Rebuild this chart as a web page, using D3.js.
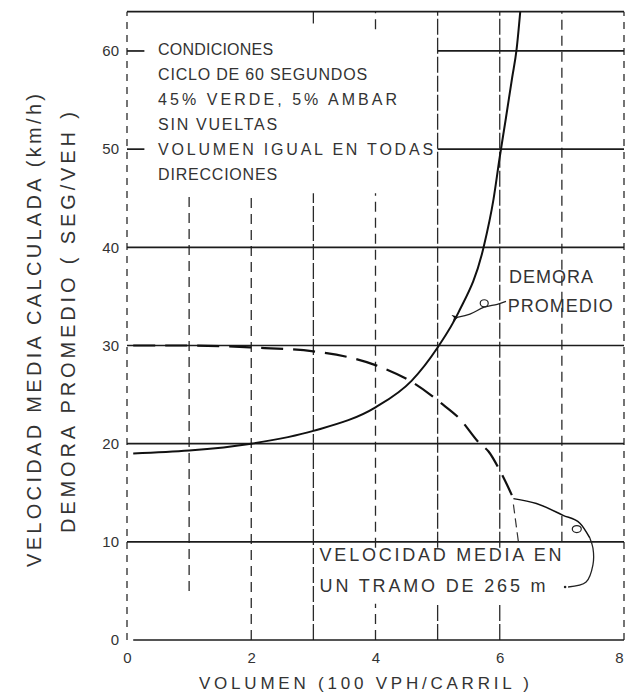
<!DOCTYPE html>
<html>
<head>
<meta charset="utf-8">
<script src="https://cdn.jsdelivr.net/npm/d3@7"></script>
<style>
body { margin: 0; background: #fff; }
text { font-family: "Liberation Sans", Arial, sans-serif; fill: #333; }
</style>
</head>
<body>
<div id="graph"></div>
<script>
// valeurs
var ticksX = [0, 2, 4, 6, 8];
var ticksY = [0, 10, 20, 30, 40, 50, 60];
var lignesX = [0, 1, 2, 3, 4, 5, 6, 7, 8];
var lignesY = [0, 10, 20, 30, 40, 50, 60];

// demora promedio (seg/veh)
var volumenDemora = [0.1, 1, 2, 3, 4, 4.58, 5, 5.33, 5.74, 5.9, 6.0, 6.1, 6.2, 6.27, 6.33];
var demora = [19.0, 19.3, 20.0, 21.3, 23.7, 26.4, 29.8, 33.3, 40.0, 44.9, 49.2, 53.2, 57.3, 60.1, 64.0];

// velocidad media calculada (km/h)
var volumenVelocidad = [0.1, 1, 2, 3, 4, 4.58, 4.88, 5.04, 5.36, 5.68, 5.82, 5.99, 6.08, 6.22];
var velocidad = [30.0, 30.0, 29.8, 29.4, 28.0, 26.3, 25.0, 24.2, 22.5, 20.0, 19.2, 17.4, 16.3, 14.4];

// velocidad media en un tramo de 265 m
var volumenTramo = [6.22, 6.59, 7.02, 7.29, 7.45];
var velocidadTramo = [14.4, 13.9, 12.7, 11.9, 10.4];
var volumenProlongacion = [6.22, 6.3];
var velocidadProlongacion = [13.8, 10.0];

// textes
var condiciones = ["CONDICIONES", "CICLO DE 60 SEGUNDOS", "45% VERDE, 5% AMBAR",
    "SIN VUELTAS", "VOLUMEN IGUAL EN TODAS", "DIRECCIONES"];
var etiquetaDemora = ["DEMORA", "PROMEDIO"];
var etiquetaTramo = ["VELOCIDAD MEDIA EN", "UN TRAMO DE 265 m"];
var tituloX = "VOLUMEN (100 VPH/CARRIL )";
var tituloY1 = "VELOCIDAD MEDIA CALCULADA (km/h)";
var tituloY2 = "DEMORA PROMEDIO ( SEG/VEH )";

// repères des flèches (en unités du graphique)
var flechaDemoraX = [5.33, 5.52, 5.75, 5.96, 6.1];
var flechaDemoraY = [32.9, 33.2, 33.9, 34.2, 34.5];
var flechaTramoX = [7.1, 7.39, 7.5, 7.5, 7.45];
var flechaTramoY = [5.4, 5.9, 7.64, 9.37, 10.4];

var totalWidth = 627, totalHeight = 695;

var x = d3.scaleLinear().domain([0, 8]).range([127, 624]),
    y = d3.scaleLinear().domain([0, 64]).range([640, 11.7]);

var svg = d3.select("#graph").append("svg")
    .attr("width", totalWidth)
    .attr("height", totalHeight);

// longueurs des textes (espacement des lettres du tracé original)
var largoCondiciones = [115, 209, 239, 119, 275, 119];

function texto(g, s, px, py, largo, tam) {
    return g.append("text")
        .attr("x", px)
        .attr("y", py + 0.36 * tam)
        .attr("font-size", tam)
        .attr("textLength", largo)
        .attr("lengthAdjust", "spacing")
        .text(s);
}

// morceaux des lignes verticales (le cadre de texte les coupe)
function tramosVerticales(v) {
    if (v === 0 || v === 8) return [[0, 64]];
    if (v === 1) return [[5, 45.5]];
    if (v === 2) return [[0, 45.5]];
    if (v === 3) return [[0, 45.5], [62.8, 64]];
    if (v === 4) return [[0, 3.7], [9.4, 45.5], [62.2, 64]];
    if (v === 5 || v === 6) return [[0, 3.7], [9.4, 64]];
    return [[10, 64]];
}
function tirets(v) {
    if (v === 0 || v === 8) return "7,6";
    if (v === 3 || v === 5 || v === 6) return "16,3";
    return "10,6";
}

var grille = svg.append("g");
lignesX.forEach(function(v) {
    tramosVerticales(v).forEach(function(t) {
        grille.append("line")
            .attr("x1", x(v)).attr("x2", x(v))
            .attr("y1", y(t[0])).attr("y2", y(t[1]))
            .attr("stroke", "#2a2a2a")
            .attr("stroke-width", 1.3)
            .attr("stroke-dasharray", tirets(v));
    });
});
lignesY.forEach(function(v) {
    var tramos = v >= 50 ? [[5, 8], [0, 0.28]] : [[v === 0 ? 0.1 : 0, 8]];
    tramos.forEach(function(t) {
        grille.append("line")
            .attr("x1", x(t[0])).attr("x2", x(t[1]))
            .attr("y1", y(v)).attr("y2", y(v))
            .attr("stroke", "#1c1c1c")
            .attr("stroke-width", 1.7);
    });
});
// bord supérieur
grille.append("line")
    .attr("x1", x(0)).attr("x2", x(8))
    .attr("y1", y(64)).attr("y2", y(64))
    .attr("stroke", "#1c1c1c")
    .attr("stroke-width", 1.7);

// axes
var axeX = svg.append("g")
    .attr("transform", "translate(0," + y(0) + ")")
    .call(d3.axisBottom(x).tickValues(ticksX).tickFormat(d3.format("d")).tickSize(0).tickPadding(12));
var axeY = svg.append("g")
    .attr("transform", "translate(" + x(0) + ",0)")
    .call(d3.axisLeft(y).tickValues(ticksY).tickFormat(d3.format("d")).tickSize(0).tickPadding(8));
d3.selectAll(".domain").remove();
svg.selectAll(".tick text")
    .attr("font-size", 15)
    .attr("font-family", "Liberation Sans, Arial, sans-serif");
// le dernier chiffre touche le bord droit
axeX.selectAll(".tick text")
    .attr("dx", function(d) { return d === 8 ? -5 : 0; });

// courbes
var ligne = d3.line()
    .x(function(d) { return x(d[0]); })
    .y(function(d) { return y(d[1]); })
    .curve(d3.curveMonotoneX);

svg.append("path")
    .datum(d3.zip(volumenDemora, demora))
    .attr("fill", "none")
    .attr("stroke", "#111")
    .attr("stroke-width", 2)
    .attr("d", ligne);

svg.append("path")
    .datum(d3.zip(volumenVelocidad, velocidad))
    .attr("fill", "none")
    .attr("stroke", "#111")
    .attr("stroke-width", 2.2)
    .attr("stroke-dasharray", "22,10")
    .attr("d", ligne);

svg.append("path")
    .datum(d3.zip(volumenTramo, velocidadTramo))
    .attr("fill", "none")
    .attr("stroke", "#111")
    .attr("stroke-width", 1.5)
    .attr("d", ligne);

svg.append("path")
    .datum(d3.zip(volumenProlongacion, velocidadProlongacion))
    .attr("fill", "none")
    .attr("stroke", "#333")
    .attr("stroke-width", 1.2)
    .attr("stroke-dasharray", "9,5")
    .attr("d", d3.line().x(function(d) { return x(d[0]); }).y(function(d) { return y(d[1]); }));

// flèches des étiquettes
svg.append("defs").append("marker")
    .attr("id", "punta")
    .attr("viewBox", "0 0 10 10")
    .attr("refX", 1).attr("refY", 5)
    .attr("markerWidth", 9).attr("markerHeight", 7)
    .attr("markerUnits", "userSpaceOnUse")
    .attr("orient", "auto-start-reverse")
    .append("path")
    .attr("d", "M0,5 L10,0 L7,5 L10,10 Z")
    .attr("fill", "#111");

var ligneCourbe = d3.line()
    .x(function(d) { return x(d[0]); })
    .y(function(d) { return y(d[1]); })
    .curve(d3.curveCatmullRom);

svg.append("path")
    .datum(d3.zip(flechaDemoraX, flechaDemoraY))
    .attr("fill", "none")
    .attr("stroke", "#222")
    .attr("stroke-width", 1.3)
    .attr("marker-start", "url(#punta)")
    .attr("d", ligneCourbe);
svg.append("ellipse")
    .attr("cx", x(5.75)).attr("cy", y(34.3))
    .attr("rx", 4).attr("ry", 3.5)
    .attr("fill", "none").attr("stroke", "#222").attr("stroke-width", 1.2);

svg.append("path")
    .datum(d3.zip(flechaTramoX, flechaTramoY))
    .attr("fill", "none")
    .attr("stroke", "#222")
    .attr("stroke-width", 1.3)
    .attr("d", ligneCourbe);
svg.append("circle")
    .attr("cx", x(flechaTramoX[0]) - 3).attr("cy", y(flechaTramoY[0]))
    .attr("r", 1.3).attr("fill", "#222");
svg.append("ellipse")
    .attr("cx", x(7.24)).attr("cy", y(11.3))
    .attr("rx", 4.5).attr("ry", 3.5)
    .attr("fill", "none").attr("stroke", "#222").attr("stroke-width", 1.2);

// textes
var notas = svg.append("g");
condiciones.forEach(function(s, i) {
    texto(notas, s, x(0.5), y(60) - 2 + i * 25, largoCondiciones[i], 16);
});
texto(notas, etiquetaDemora[0], x(6.15), y(37.0), 84, 18);
texto(notas, etiquetaDemora[1], x(6.13), y(34.1), 105, 18);
texto(notas, etiquetaTramo[0], x(3.1), y(8.66), 242, 18);
texto(notas, etiquetaTramo[1], x(3.1), y(5.6), 226, 18);

// titres des axes
svg.append("text")
    .attr("x", 364)
    .attr("y", 683 + 0.36 * 17)
    .attr("text-anchor", "middle")
    .attr("font-size", 17)
    .attr("textLength", 330)
    .attr("lengthAdjust", "spacing")
    .text(tituloX);
svg.append("text")
    .attr("transform", "translate(34,330.5) rotate(-90)")
    .attr("y", 0.36 * 20)
    .attr("text-anchor", "middle")
    .attr("font-size", 20)
    .attr("textLength", 473)
    .attr("lengthAdjust", "spacing")
    .text(tituloY1);
svg.append("text")
    .attr("transform", "translate(67.5,322.5) rotate(-90)")
    .attr("y", 0.36 * 20)
    .attr("text-anchor", "middle")
    .attr("font-size", 20)
    .attr("textLength", 421)
    .attr("lengthAdjust", "spacing")
    .text(tituloY2);
</script>
</body>
</html>
